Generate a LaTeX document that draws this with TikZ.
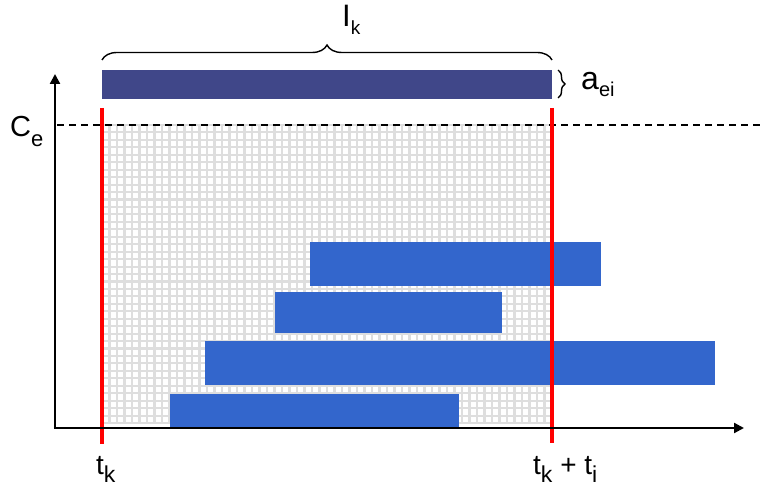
\documentclass[tikz,border=0pt]{standalone}
\usepackage{fontspec}
\setmainfont{Liberation Sans}
\usetikzlibrary{decorations.pathreplacing,arrows.meta}
\definecolor{darkbar}{RGB}{64,71,137}
\definecolor{taskbar}{RGB}{51,102,204}
\definecolor{gridgray}{RGB}{222,222,222}
\newcommand{\fsz}[1]{\fontsize{#1}{#1}\selectfont}
\newcommand{\sbs}[3]{\raisebox{-#2pt}{\fsz{#1}#3}}
\tikzset{
  lbl/.style={inner sep=0pt, anchor=base west},
  redline/.style={draw=red, line width=3.6pt},
  axisline/.style={draw=black, line width=2.2pt, -{Triangle[length=10pt,width=10pt]}},
}
\begin{document}
\begin{tikzpicture}[x=1pt,y=-1pt]
\useasboundingbox (0,0) rectangle (765,486);
% grid
\begin{scope}
\clip (102,125) rectangle (552,424);
\foreach \i in {0,...,60} {\draw[gridgray, line width=2.1pt] (102+7.5*\i,125) -- (102+7.5*\i,424);}
\foreach \j in {0,...,40} {\draw[gridgray, line width=2.1pt] (102,125+7.45*\j) -- (552,125+7.45*\j);}
\end{scope}
% capacity line
\coordinate (ceL) at (57,125);
\coordinate (ceR) at (763,125);
\draw[line width=1.8pt, dash pattern=on 7pt off 5pt] (ceL) -- (ceR);
% bars
\fill[darkbar] (102,70) rectangle (552,99);
\fill[taskbar] (310,242) rectangle (601,286);
\fill[taskbar] (275,292) rectangle (502,333);
\fill[taskbar] (205,341) rectangle (715,385);
\fill[taskbar] (170,394) rectangle (459,427);
% red lines
\coordinate (r1t) at (102,108);
\coordinate (r1b) at (102,444);
\coordinate (r2t) at (552,108);
\coordinate (r2b) at (552,443);
\draw[redline] (r1t) -- (r1b);
\draw[redline] (r2t) -- (r2b);
% axes
\coordinate (O) at (55,428);
\coordinate (yT) at (55,74);
\coordinate (xT) at (744,428);
\draw[axisline] ([yshift=1.1pt]O) -- (yT);
\draw[axisline] ([xshift=-1.1pt]O) -- (xT);
% braces
\coordinate (bL) at (102,60);
\coordinate (bR) at (552,60);
\draw[line width=1.4pt, decorate, decoration={brace, amplitude=15pt}] (bL) -- (bR);
\coordinate (aT) at (558,70);
\coordinate (aB) at (558,98);
\draw[line width=1.4pt, decorate, decoration={brace, amplitude=7pt}] (aT) -- (aB);
% labels
\node[lbl] (Ik) at (342,27) {\fsz{31}I\sbs{19}{8}{k}};
\node[lbl] (Ce) at (10,137) {\fsz{29}C\sbs{22}{10}{e}};
\node[lbl] (aei) at (581,90) {\fsz{32}a\sbs{20}{7}{ei}};
\node[lbl] (tk) at (96,474) {\fsz{28}t\sbs{23}{8}{k}};
\node[lbl] (tkti) at (533,474) {\fsz{28}t\sbs{23}{8}{k} + t\sbs{23}{8}{i}};
\end{tikzpicture}
\end{document}
